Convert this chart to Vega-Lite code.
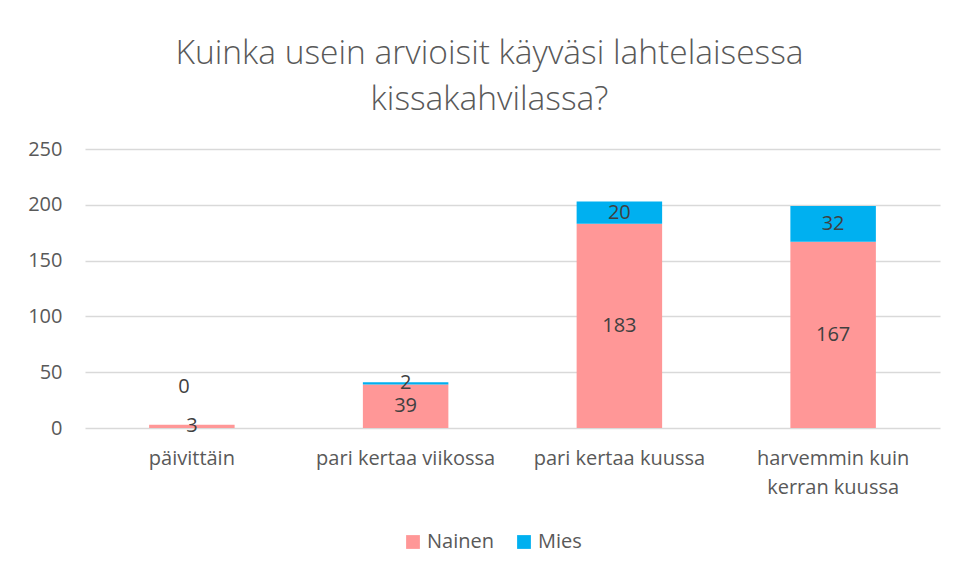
{
  "$schema": "https://vega.github.io/schema/vega-lite/v6.json",
  "width": 855,
  "height": 279,
  "autosize": "none",
  "padding": {"left": 85, "top": 149, "right": 19, "bottom": 147},
  "background": "white",
  "config": {
    "view": {"stroke": null},
    "font": "Open Sans",
    "axisY": {
      "grid": true,
      "gridColor": "#D9D9D9",
      "gridWidth": 1.5,
      "domain": false,
      "ticks": false,
      "labelPadding": 23,
      "labelFontSize": 20,
      "labelColor": "#595959"
    }
  },
  "title": {
    "text": ["Kuinka usein arvioisit käyväsi lahtelaisessa", "kissakahvilassa?"],
    "font": "Open Sans",
    "fontSize": 33.5,
    "fontWeight": 300,
    "color": "#595959",
    "anchor": "middle",
    "dx": -23,
    "offset": 22,
    "lineHeight": 46
  },
  "data": {
    "values": [
      {"kategoria": "päivittäin", "sukupuoli": "Nainen", "n": 3},
      {"kategoria": "päivittäin", "sukupuoli": "Mies", "n": 0},
      {"kategoria": "pari kertaa viikossa", "sukupuoli": "Nainen", "n": 39},
      {"kategoria": "pari kertaa viikossa", "sukupuoli": "Mies", "n": 2},
      {"kategoria": "pari kertaa kuussa", "sukupuoli": "Nainen", "n": 183},
      {"kategoria": "pari kertaa kuussa", "sukupuoli": "Mies", "n": 20},
      {"kategoria": "harvemmin kuin kerran kuussa", "sukupuoli": "Nainen", "n": 167},
      {"kategoria": "harvemmin kuin kerran kuussa", "sukupuoli": "Mies", "n": 32}
    ]
  },
  "encoding": {
    "x": {
      "field": "kategoria",
      "type": "nominal",
      "sort": null,
      "scale": {"paddingInner": 0.6, "paddingOuter": 0.3},
      "axis": {
        "title": null,
        "labelAngle": 0,
        "domain": false,
        "ticks": false,
        "labelPadding": 20,
        "labelFontSize": 20,
        "labelColor": "#595959",
        "labelLineHeight": 29,
        "labelExpr": "datum.label == 'harvemmin kuin kerran kuussa' ? ['harvemmin kuin', 'kerran kuussa'] : datum.label"
      }
    }
  },
  "layer": [
    {
      "mark": {"type": "bar"},
      "encoding": {
        "y": {
          "field": "n",
          "type": "quantitative",
          "stack": "zero",
          "scale": {"domain": [0, 250], "nice": false},
          "axis": {"title": null, "values": [0, 50, 100, 150, 200, 250]}
        },
        "color": {
          "field": "sukupuoli",
          "type": "nominal",
          "scale": {"domain": ["Nainen", "Mies"], "range": ["#FF9797", "#00B0F0"]},
          "legend": {
            "title": null,
            "orient": "none",
            "legendX": 318,
            "legendY": 383,
            "direction": "horizontal",
            "symbolType": "square",
            "symbolSize": 190,
            "symbolStrokeWidth": 0,
            "labelFontSize": 20,
            "labelColor": "#595959",
            "columnPadding": 20
          }
        },
        "order": {"field": "sukupuoli", "sort": "descending"}
      }
    },
    {
      "transform": [
        {"stack": "n", "groupby": ["kategoria"], "sort": [{"field": "sukupuoli", "order": "descending"}], "as": ["y0", "y1"]},
        {"filter": "datum.n > 0"},
        {"fold": ["y0", "y1"], "as": ["k", "v"]}
      ],
      "mark": {"type": "text", "fontSize": 20, "color": "#404040", "baseline": "middle"},
      "encoding": {
        "y": {"aggregate": "mean", "field": "v", "type": "quantitative", "scale": {"domain": [0, 250], "nice": false}, "axis": {"title": null, "values": [0, 50, 100, 150, 200, 250]}},
        "text": {"aggregate": "max", "field": "n", "type": "quantitative"},
        "detail": {"field": "sukupuoli"}
      }
    },
    {
      "transform": [
        {"stack": "n", "groupby": ["kategoria"], "sort": [{"field": "sukupuoli", "order": "descending"}], "as": ["y0", "y1"]},
        {"filter": "datum.n == 0"}
      ],
      "mark": {"type": "text", "fontSize": 20, "color": "#404040", "baseline": "middle", "dx": -8, "dy": -38},
      "encoding": {
        "y": {"field": "y1", "type": "quantitative", "scale": {"domain": [0, 250], "nice": false}, "axis": {"title": null, "values": [0, 50, 100, 150, 200, 250]}},
        "text": {"field": "n", "type": "quantitative"}
      }
    }
  ]
}
